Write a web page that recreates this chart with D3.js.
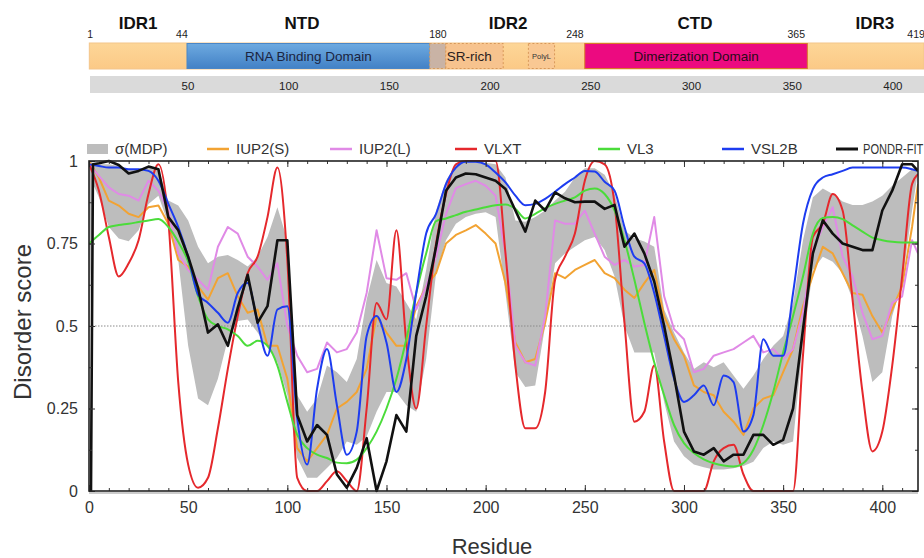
<!DOCTYPE html>
<html><head><meta charset="utf-8">
<script src="https://cdn.jsdelivr.net/npm/d3@7"></script>
<style>body{margin:0;background:#fff;} svg{display:block;}</style>
</head><body><svg id="c" width="924" height="558"></svg>
<script>
// ---------------- DATA ----------------
const residues = [0,5,10,15,20,25,30,35,40,45,50,55,60,65,70,75,80,85,90,95,100,105,110,115,120,125,130,135,140,145,150,155,160,165,170,175,180,185,190,195,200,205,210,215,220,225,230,235,240,245,250,255,260,265,270,275,280,285,290,295,300,305,310,315,320,325,330,335,340,345,350,355,360,365,370,375,380,385,390,395,400,405,410,415,418];
const pondrResidues = [1,2,5,10,15,20,25,30,35,40,45,50,55,60,65,70,75,80,85,90,95,100,105,110,115,120,125,130,135,140,145,150,155,160,165,170,175,180,185,190,195,200,205,210,215,220,225,230,235,240,245,250,255,260,265,270,275,280,285,290,295,300,305,310,315,320,325,330,335,340,345,350,355,360,365,370,375,380,385,390,395,400,405,410,415,418];
const bandResidues = [0,2,5,10,15,20,25,30,35,40,45,50,55,60,65,70,75,80,85,90,95,100,105,110,115,120,125,130,135,140,145,150,155,160,165,170,175,180,185,190,195,200,205,210,215,220,225,230,235,240,245,250,255,260,265,270,275,280,285,290,295,300,305,310,315,320,325,330,335,340,345,350,355,360,365,370,375,380,385,390,395,400,405,410,415,418];

const iup2S = [1.0,.95,.88,.865,.84,.83,.86,.865,.81,.70,
  .68,.62,.58,.645,.66,.59,.54,.55,.44,.44,
  .34,.13,.09,.13,.17,.25,.27,.30,.37,.53,
  .48,.44,.44,.56,.62,.66,.75,.776,.79,.806,
  .78,.75,.63,.45,.39,.40,.51,.66,.645,.67,
  .685,.70,.66,.645,.61,.585,.63,.67,.53,.46,
  .41,.32,.30,.29,.24,.21,.17,.25,.28,.29,
  .36,.43,.56,.655,.74,.72,.66,.60,.595,.53,
  .48,.55,.62,.80,.93];
const iup2L = [.99,.955,.92,.90,.895,.88,.94,.91,.85,.72,
  .67,.64,.61,.74,.80,.78,.71,.68,.64,.69,
  .50,.41,.36,.37,.45,.42,.43,.48,.60,.79,
  .645,.64,.66,.55,.62,.71,.84,.918,.93,.94,
  .925,.895,.72,.44,.39,.38,.53,.82,.81,.81,
  .85,.78,.71,.685,.70,.68,.685,.83,.59,.49,
  .46,.36,.37,.41,.42,.43,.45,.47,.42,.43,
  .40,.43,.54,.73,.80,.86,.71,.65,.54,.46,
  .47,.57,.59,.76,.72];
const vlxt = [.99,.91,.77,.65,.69,.76,.90,.99,.82,.33,
  .08,.01,.04,.19,.37,.53,.66,.71,.83,.98,
  .70,.04,0,0,.03,.06,.03,0,.25,.57,
  .52,.79,.45,.25,.50,.75,.90,.99,1.0,1.0,
  1.0,1.0,.72,.38,.19,.19,.30,.64,.71,.78,
  .94,1.0,.99,.87,.51,.21,.24,.38,.15,0,
  0,0,0,.09,.13,.14,.05,0,0,0,
  0,0,.41,.77,.81,.90,.85,.58,.30,.12,
  .18,.38,.65,.93,.96];
const vl3 = [.75,.776,.80,.806,.81,.815,.82,.824,.80,.755,
  .695,.59,.52,.50,.49,.47,.44,.455,.44,.38,
  .27,.17,.13,.11,.10,.086,.084,.095,.13,.18,
  .25,.34,.46,.60,.72,.818,.826,.836,.846,.853,
  .86,.866,.868,.855,.826,.84,.857,.87,.88,.89,
  .91,.917,.90,.85,.76,.64,.51,.39,.29,.20,
  .145,.115,.096,.084,.077,.074,.085,.125,.20,.30,
  .42,.53,.65,.78,.827,.83,.824,.805,.786,.768,
  .76,.755,.753,.753,.753];
const vsl2b = [.99,.985,.98,.98,.975,.975,.97,.94,.87,.80,
  .71,.595,.57,.54,.51,.60,.63,.51,.41,.55,
  .56,.22,.08,.31,.43,.26,.11,.18,.47,.53,
  .45,.30,.40,.60,.78,.84,.93,.98,.998,.998,
  .99,.965,.935,.895,.866,.87,.885,.907,.93,.95,
  .97,.968,.937,.91,.80,.71,.69,.60,.47,.34,
  .27,.29,.32,.26,.35,.33,.18,.23,.46,.41,
  .41,.60,.81,.915,.95,.96,.97,.98,.98,.98,
  .98,.98,.98,.975,.97];
const pondrFit = [0,.99,
  .993,1.0,.988,.962,.97,.983,.975,.83,.79,
  .71,.615,.48,.505,.44,.555,.655,.51,.56,.76,
  .76,.23,.15,.20,.17,.05,.01,.07,.16,0,
  .09,.23,.18,.47,.59,.74,.91,.95,.962,.96,
  .95,.94,.915,.85,.786,.88,.85,.905,.887,.875,
  .877,.877,.855,.867,.74,.78,.72,.635,.50,.35,
  .18,.12,.11,.13,.09,.11,.11,.17,.17,.14,
  .155,.25,.49,.72,.82,.78,.75,.74,.73,.73,
  .85,.91,.99,.99,.97];
const mdpUpper = [1.0,.995,
  .99,.99,.985,.975,.975,.98,.975,.88,.865,
  .82,.74,.69,.71,.715,.70,.68,.71,.77,.86,
  .76,.29,.24,.28,.38,.36,.33,.40,.58,.70,
  .63,.62,.57,.52,.67,.85,.94,.99,.998,.998,
  .995,.99,.95,.82,.816,.83,.85,.88,.907,.95,
  .978,.978,.958,.90,.79,.766,.756,.74,.55,.48,
  .42,.37,.39,.375,.39,.35,.31,.35,.40,.44,
  .47,.57,.76,.89,.917,.90,.877,.867,.867,.877,
  .895,.925,.95,.975,.98];
const mdpLower = [.42,.93,
  .89,.80,.765,.757,.79,.87,.895,.81,.70,
  .44,.28,.26,.34,.46,.515,.52,.48,.435,.39,
  .29,.10,.04,.04,.07,.10,.15,.14,.165,.24,
  .30,.30,.26,.24,.40,.66,.76,.81,.83,.84,
  .845,.83,.60,.36,.315,.32,.50,.69,.72,.74,
  .76,.77,.73,.65,.50,.42,.42,.42,.27,.15,
  .105,.08,.072,.065,.065,.069,.076,.089,.13,.15,
  .14,.15,.45,.67,.71,.695,.66,.58,.47,.33,
  .36,.53,.63,.85,.97];

const seriesNames = ["IUP2(S)","IUP2(L)","VLXT","VL3","VSL2B","PONDR-FIT"];
const xTicks = [0,50,100,150,200,250,300,350,400];
const yTicks = [0,0.25,0.5,0.75,1];

// domain map (top)
const regionNames = ["IDR1","NTD","IDR2","CTD","IDR3"];
const regionCenters = [25.2,106.6,208.9,301.7,391];
const boundaryLabels = ["1","44","180","248","365","419"];
const boundaryPos = [1.4,47,174.1,242.1,352,411.5];
const domainNames = ["RNA Binding Domain","","SR-rich","PolyL","Dimerization Domain"];
const domainStart = [49.5,170,178,219,247];
const domainEnd = [170,178,206.5,232,357.5];
const domainKind = ["rbd","linker","sr","polyl","dim"];
const scaleTicks = [50,100,150,200,250,300,350,400];

// ---------------- DRAW ----------------
const svg = d3.select("#c");
const W = 924, H = 558;
svg.append("rect").attr("width",W).attr("height",H).attr("fill","#fff");

// --- top domain map
const xTop = d3.scaleLinear().domain([0,419]).range([87.3,931.2]);
const defs = svg.append("defs");
const g1 = defs.append("linearGradient").attr("id","rbdGrad").attr("x1",0).attr("x2",0).attr("y1",0).attr("y2",1);
g1.append("stop").attr("offset","0%").attr("stop-color","#6eaae0");
g1.append("stop").attr("offset","100%").attr("stop-color","#4281c6");
const g2 = defs.append("linearGradient").attr("id","idrGrad").attr("x1",0).attr("x2",0).attr("y1",0).attr("y2",1);
g2.append("stop").attr("offset","0%").attr("stop-color","#fdd698");
g2.append("stop").attr("offset","100%").attr("stop-color","#fbc986");

const topG = svg.append("g");
const barY = 43, barH = 26;
topG.append("rect").attr("x",xTop(1)).attr("y",barY).attr("width",W - xTop(1)).attr("height",barH)
  .attr("fill","url(#idrGrad)").attr("stroke","#f3c58a").attr("stroke-width",1);

const kindStyle = {
  rbd:{fill:"url(#rbdGrad)",stroke:"#4a86c6",dash:null,font:13.5,color:"#1b2440"},
  linker:{fill:"#c9b3a5",stroke:"#d39b62",dash:"2,2",font:12,color:"#222"},
  sr:{fill:"#f7c38e",stroke:"#d8985a",dash:"2,2",font:13.5,color:"#2a2020"},
  polyl:{fill:"#f9c893",stroke:"#d8985a",dash:"2,2",font:7.5,color:"#333"},
  dim:{fill:"#ec0a80",stroke:"#d77a2a",dash:null,font:13.5,color:"#2a0a18"}
};
domainNames.forEach((nm,i)=>{
  const st = kindStyle[domainKind[i]];
  const x0 = xTop(domainStart[i]), x1 = xTop(domainEnd[i]);
  const r = topG.append("rect").attr("x",x0).attr("y",barY+0.5).attr("width",x1-x0).attr("height",barH-1)
    .attr("fill",st.fill).attr("stroke",st.stroke).attr("stroke-width",1);
  if (st.dash) r.attr("stroke-dasharray",st.dash);
  if (nm) {
    const t = topG.append("text").attr("y",barY+barH/2).attr("dy","0.36em")
      .attr("font-family","'Liberation Sans', Arial, sans-serif").attr("font-size",st.font)
      .attr("fill",st.color).text(nm);
    if (domainKind[i]==="sr") t.attr("x",x0+1).attr("text-anchor","start");
    else t.attr("x",(x0+x1)/2).attr("text-anchor","middle");
  }
});
regionNames.forEach((nm,i)=>{
  topG.append("text").attr("x",xTop(regionCenters[i])).attr("y",29).attr("text-anchor","middle")
    .attr("font-family","'Liberation Sans', Arial, sans-serif").attr("font-weight","bold")
    .attr("font-size",17).attr("fill","#111").text(nm);
});
boundaryLabels.forEach((lb,i)=>{
  topG.append("text").attr("x",xTop(boundaryPos[i])).attr("y",38).attr("text-anchor","middle")
    .attr("font-family","'Liberation Sans', Arial, sans-serif").attr("font-size",10.5)
    .attr("fill","#222").text(lb);
});
topG.append("rect").attr("x",90).attr("y",76).attr("width",W-90).attr("height",17).attr("fill","#dadada");
scaleTicks.forEach(t=>{
  topG.append("text").attr("x",xTop(t)).attr("y",89.5).attr("text-anchor","middle")
    .attr("font-family","'Liberation Sans', Arial, sans-serif").attr("font-size",11.5)
    .attr("fill","#222").text(t);
});

// --- main plot
const L = 89, R = 918, T = 161, B = 491;
const x = d3.scaleLinear().domain([0,418]).range([L,R]);
const y = d3.scaleLinear().domain([0,1]).range([B,T]);

defs.append("clipPath").attr("id","plotClip").append("rect")
  .attr("x",L).attr("y",T-2).attr("width",R-L).attr("height",B-T+4);

const plot = svg.append("g").attr("clip-path","url(#plotClip)");

// band
const band = d3.area().x((d,i)=>x(bandResidues[i])).y0((d,i)=>y(mdpLower[i])).y1((d,i)=>y(mdpUpper[i]));
plot.append("path").datum(mdpUpper).attr("d",band).attr("fill","#bdbdbd");

// 0.5 dotted
plot.append("line").attr("x1",L).attr("x2",R).attr("y1",y(0.5)).attr("y2",y(0.5))
  .attr("stroke","#8a8a8a").attr("stroke-width",1).attr("stroke-dasharray","1.5,1.5");

const seriesData = [
  {name:"IUP2(S)", xs:residues, ys:iup2S, color:"#f2a333", w:2, curve:d3.curveLinear},
  {name:"IUP2(L)", xs:residues, ys:iup2L, color:"#e08ae6", w:2, curve:d3.curveLinear},
  {name:"VLXT", xs:residues, ys:vlxt, color:"#e5282c", w:2, curve:d3.curveMonotoneX},
  {name:"VL3", xs:residues, ys:vl3, color:"#4bdc3a", w:2, curve:d3.curveMonotoneX},
  {name:"VSL2B", xs:residues, ys:vsl2b, color:"#1d3cf0", w:2, curve:d3.curveMonotoneX},
  {name:"PONDR-FIT", xs:pondrResidues, ys:pondrFit, color:"#111111", w:2.6, curve:d3.curveLinear}
];
seriesData.forEach(s=>{
  const line = d3.line().x((d,i)=>x(s.xs[i])).y(d=>y(d)).curve(s.curve);
  plot.append("path").datum(s.ys).attr("d",line).attr("fill","none")
    .attr("stroke",s.color).attr("stroke-width",s.w).attr("stroke-linejoin","round");
});

// axes
const fontAx = "'Liberation Sans', Arial, sans-serif";
function styleAxis(g, labels){
  g.select(".domain").remove();
  g.selectAll(".tick line").attr("stroke","#333").attr("stroke-width",1);
  g.selectAll("text").attr("font-family",fontAx).attr("font-size",16).attr("fill","#333");
  if(!labels) g.selectAll("text").remove();
}
const minorX = d3.range(0,419,10);
const minorY = d3.range(0,1.001,0.125);
svg.append("g").attr("transform",`translate(0,${B})`)
  .call(d3.axisBottom(x).tickValues(minorX).tickSize(-3).tickFormat("")).call(g=>styleAxis(g,false));
svg.append("g").attr("transform",`translate(0,${T})`)
  .call(d3.axisTop(x).tickValues(minorX).tickSize(-3).tickFormat("")).call(g=>styleAxis(g,false));
svg.append("g").attr("transform",`translate(0,${B})`)
  .call(d3.axisBottom(x).tickValues(xTicks).tickSize(-6).tickPadding(11).tickFormat(d3.format("d"))).call(g=>styleAxis(g,true));
svg.append("g").attr("transform",`translate(0,${T})`)
  .call(d3.axisTop(x).tickValues(xTicks).tickSize(-6).tickFormat("")).call(g=>styleAxis(g,false));
svg.append("g").attr("transform",`translate(${L},0)`)
  .call(d3.axisLeft(y).tickValues(minorY).tickSize(-3).tickFormat("")).call(g=>styleAxis(g,false));
svg.append("g").attr("transform",`translate(${R},0)`)
  .call(d3.axisRight(y).tickValues(minorY).tickSize(-3).tickFormat("")).call(g=>styleAxis(g,false));
svg.append("g").attr("transform",`translate(${L},0)`)
  .call(d3.axisLeft(y).tickValues(yTicks).tickSize(-6).tickPadding(11).tickFormat(d=>String(d))).call(g=>styleAxis(g,true));
svg.append("g").attr("transform",`translate(${R},0)`)
  .call(d3.axisRight(y).tickValues(yTicks).tickSize(-6).tickFormat("")).call(g=>styleAxis(g,false));

// frame
svg.append("rect").attr("x",L).attr("y",T).attr("width",R-L).attr("height",B-T)
  .attr("fill","none").attr("stroke","#222").attr("stroke-width",1.6);
svg.append("line").attr("x1",L).attr("x2",R).attr("y1",B+2).attr("y2",B+2).attr("stroke","#999").attr("stroke-width",1);

// axis titles
svg.append("text").attr("transform","translate(31,322) rotate(-90)").attr("text-anchor","middle")
  .attr("font-family",fontAx).attr("font-size",24).attr("fill","#333").text("Disorder score");
svg.append("text").attr("x",492).attr("y",554).attr("text-anchor","middle")
  .attr("font-family",fontAx).attr("font-size",22).attr("fill","#333").text("Residue");

// legend
const legX = [87,207,330,455,598,722,836];
const legNames = ["σ(MDP)"].concat(seriesNames);
const legColors = ["#bdbdbd"].concat(seriesData.map(s=>s.color));
const leg = svg.append("g");
legNames.forEach((nm,i)=>{
  const lx = legX[i], ly = 149;
  if(i===0){
    leg.append("rect").attr("x",lx).attr("y",ly-5).attr("width",21).attr("height",10).attr("fill",legColors[i]);
  } else {
    leg.append("line").attr("x1",lx).attr("x2",lx+22).attr("y1",ly).attr("y2",ly)
      .attr("stroke",legColors[i]).attr("stroke-width",i===6?3:2.5);
  }
  const tx = lx + (i===0?28:(i===6?27:29));
  const sx = i===6 ? 0.74 : 1;
  leg.append("text").attr("transform",`translate(${tx},${ly}) scale(${sx},1)`).attr("dy","0.36em")
    .attr("font-family","'Liberation Sans', Arial, sans-serif").attr("font-size",15)
    .attr("fill","#333").text(nm);
});
</script>
</body></html>
